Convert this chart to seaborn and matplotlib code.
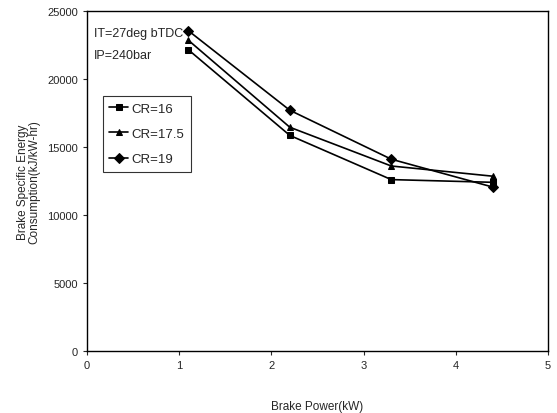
import matplotlib
matplotlib.use("Agg")
import matplotlib.pyplot as plt
import seaborn as sns
import pandas as pd

brake_power = [1.1, 2.2, 3.3, 4.4]
cr16 = [22150, 15850, 12600, 12400]
cr175 = [22850, 16450, 13600, 12850]
cr19 = [23550, 17700, 14100, 12050]
series_labels = ["CR=16", "CR=17.5", "CR=19"]
markers = ["s", "^", "D"]
x_ticks = [0, 1, 2, 3, 4, 5]
y_ticks = [0, 5000, 10000, 15000, 20000, 25000]

sns.set_style("white")
plt.rcParams["font.family"] = ["Liberation Sans", "DejaVu Sans"]

rows = []
for lab, vals in zip(series_labels, [cr16, cr175, cr19]):
    for x, y in zip(brake_power, vals):
        rows.append({"x": x, "y": y, "series": lab})
df = pd.DataFrame(rows)

fig = plt.figure(figsize=(5.57, 4.14), dpi=100)
ax = fig.add_axes([0.156, 0.150, 0.828, 0.821])
sns.lineplot(data=df, x="x", y="y", hue="series", style="series",
             markers=dict(zip(series_labels, markers)), dashes=False,
             palette=["black"] * 3, markersize=5, linewidth=1.2,
             markeredgecolor="black", ax=ax)
ax.set_xlim(0, 5)
ax.set_ylim(0, 25000)
ax.set_xticks(x_ticks)
ax.set_yticks(y_ticks)
ax.tick_params(labelsize=8, length=3, direction="out", left=True, bottom=True, width=0.8)
for s in ax.spines.values():
    s.set_color("black")
    s.set_linewidth(1.0)
ax.set_xlabel("Brake Power(kW)", fontsize=8.5)
ax.set_ylabel("Brake Specific Energy\nConsumption(kJ/kW-hr)", fontsize=8.5, linespacing=0.95)
ax.xaxis.set_label_coords(0.5, -0.145)
ax.yaxis.set_label_coords(-0.1, 0.5)
ax.text(0.015, 0.935, "IT=27deg bTDC", transform=ax.transAxes, fontsize=9, va="center")
ax.text(0.015, 0.87, "IP=240bar", transform=ax.transAxes, fontsize=9, va="center")
leg = ax.legend(title=None, loc="upper left", bbox_to_anchor=(0.02, 0.77),
                fontsize=9.5, frameon=True, fancybox=False, edgecolor="black",
                handlelength=1.4, handletextpad=0.3, borderpad=0.5, labelspacing=1.0)
leg.get_frame().set_linewidth(0.8)
fig.savefig("out.png", dpi=100)
